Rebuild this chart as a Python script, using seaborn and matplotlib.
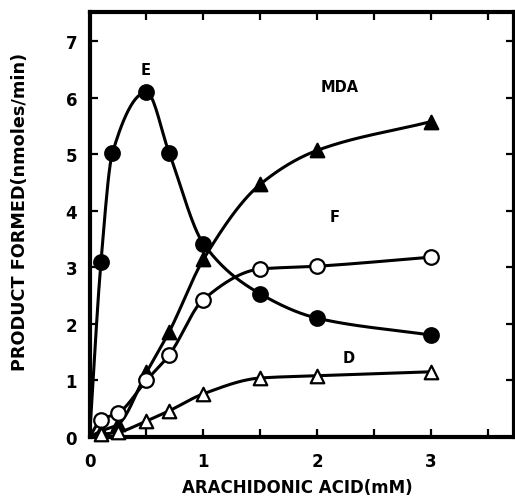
import numpy as np
import pandas as pd
import matplotlib
matplotlib.use("Agg")
import matplotlib.pyplot as plt
import seaborn as sns

# values (x = arachidonic acid, mM)
e_x = [0.1, 0.2, 0.5, 0.7, 1.0, 1.5, 2.0, 3.0]
e_y = [3.1, 5.02, 6.1, 5.02, 3.42, 2.53, 2.1, 1.8]

mda_x = [0.1, 0.25, 0.5, 0.7, 1.0, 1.5, 2.0, 3.0]
mda_y = [0.1, 0.22, 1.14, 1.86, 3.14, 4.47, 5.07, 5.58]

f_x = [0.1, 0.25, 0.5, 0.7, 1.0, 1.5, 2.0, 3.0]
f_y = [0.3, 0.42, 1.0, 1.45, 2.43, 2.97, 3.02, 3.18]

d_x = [0.1, 0.25, 0.5, 0.7, 1.0, 1.5, 2.0, 3.0]
d_y = [0.04, 0.08, 0.28, 0.46, 0.76, 1.04, 1.08, 1.15]

labels = {"E": (0.49, 6.5), "MDA": (2.2, 6.2), "F": (2.15, 3.9), "D": (2.28, 1.4)}


def pchip(x, y, n=300):
    # monotone cubic so the hand-drawn style curves don't overshoot
    x = np.asarray(x, float)
    y = np.asarray(y, float)
    h = np.diff(x)
    d = np.diff(y) / h
    m = np.zeros_like(y)
    for i in range(1, len(x) - 1):
        if d[i - 1] * d[i] > 0:
            w1 = 2 * h[i] + h[i - 1]
            w2 = h[i] + 2 * h[i - 1]
            m[i] = (w1 + w2) / (w1 / d[i - 1] + w2 / d[i])
    m[0] = d[0]
    m[-1] = d[-1]
    xs = np.linspace(x[0], x[-1], n)
    k = np.clip(np.searchsorted(x, xs) - 1, 0, len(h) - 1)
    t = (xs - x[k]) / h[k]
    h00 = 2 * t**3 - 3 * t**2 + 1
    h10 = t**3 - 2 * t**2 + t
    h01 = -2 * t**3 + 3 * t**2
    h11 = t**3 - t**2
    ys = h00 * y[k] + h10 * h[k] * m[k] + h01 * y[k + 1] + h11 * h[k] * m[k + 1]
    return xs, ys


sns.set_theme(style="ticks")
plt.rcParams["font.family"] = ["DejaVu Sans"]
plt.rcParams["font.weight"] = "bold"
plt.rcParams["text.color"] = "black"
plt.rcParams["axes.labelcolor"] = "black"
plt.rcParams["xtick.color"] = "black"
plt.rcParams["ytick.color"] = "black"

fig = plt.figure(figsize=(5.15, 5.02), dpi=100)
ax = fig.add_axes([0.174, 0.128, 0.824, 0.846])

series = [
    (e_x, e_y, "o", "black"),
    (mda_x, mda_y, "^", "black"),
    (f_x, f_y, "o", "white"),
    (d_x, d_y, "^", "white"),
]
for xs, ys, mk, fc in series:
    cx, cy = pchip([0.0] + xs, [0.0] + ys)
    sns.lineplot(x=cx, y=cy, ax=ax, color="black", linewidth=2.2, sort=False)
    df = pd.DataFrame({"x": xs, "y": ys})
    sns.scatterplot(data=df, x="x", y="y", ax=ax, marker=mk, s=110 if mk == "o" else 95,
                    color=fc, edgecolor="black", linewidth=1.6, zorder=5, clip_on=False)

for name, (lx, ly) in labels.items():
    ax.text(lx, ly, name, ha="center", va="center", fontsize=10.5,
            fontweight="bold", color="black")

ax.set_xlim(0, 3.73)
ax.set_ylim(0, 7.52)
ax.set_xticks(np.arange(0, 3.6, 0.5))
ax.set_xticklabels(["0", "", "1", "", "2", "", "3", ""])
ax.set_yticks(range(0, 8))
ax.tick_params(direction="in", length=6, width=1.6, top=True, right=True,
               labelsize=12, colors="black")
ax.tick_params(axis="y", pad=9)
ax.tick_params(axis="x", pad=11)
for sp in ax.spines.values():
    sp.set_linewidth(3)
    sp.set_color("black")

ax.set_xlabel("ARACHIDONIC ACID(mM)", fontsize=12, fontweight="bold", color="black")
ax.set_ylabel("PRODUCT FORMED(nmoles/min)", fontsize=12.7, fontweight="bold", color="black")
ax.xaxis.label.set_va("center")
ax.yaxis.label.set_va("center")
ax.xaxis.set_label_coords(0.49, -0.118)
ax.yaxis.set_label_coords(-0.164, 0.532)

fig.savefig("out.png", dpi=100)
